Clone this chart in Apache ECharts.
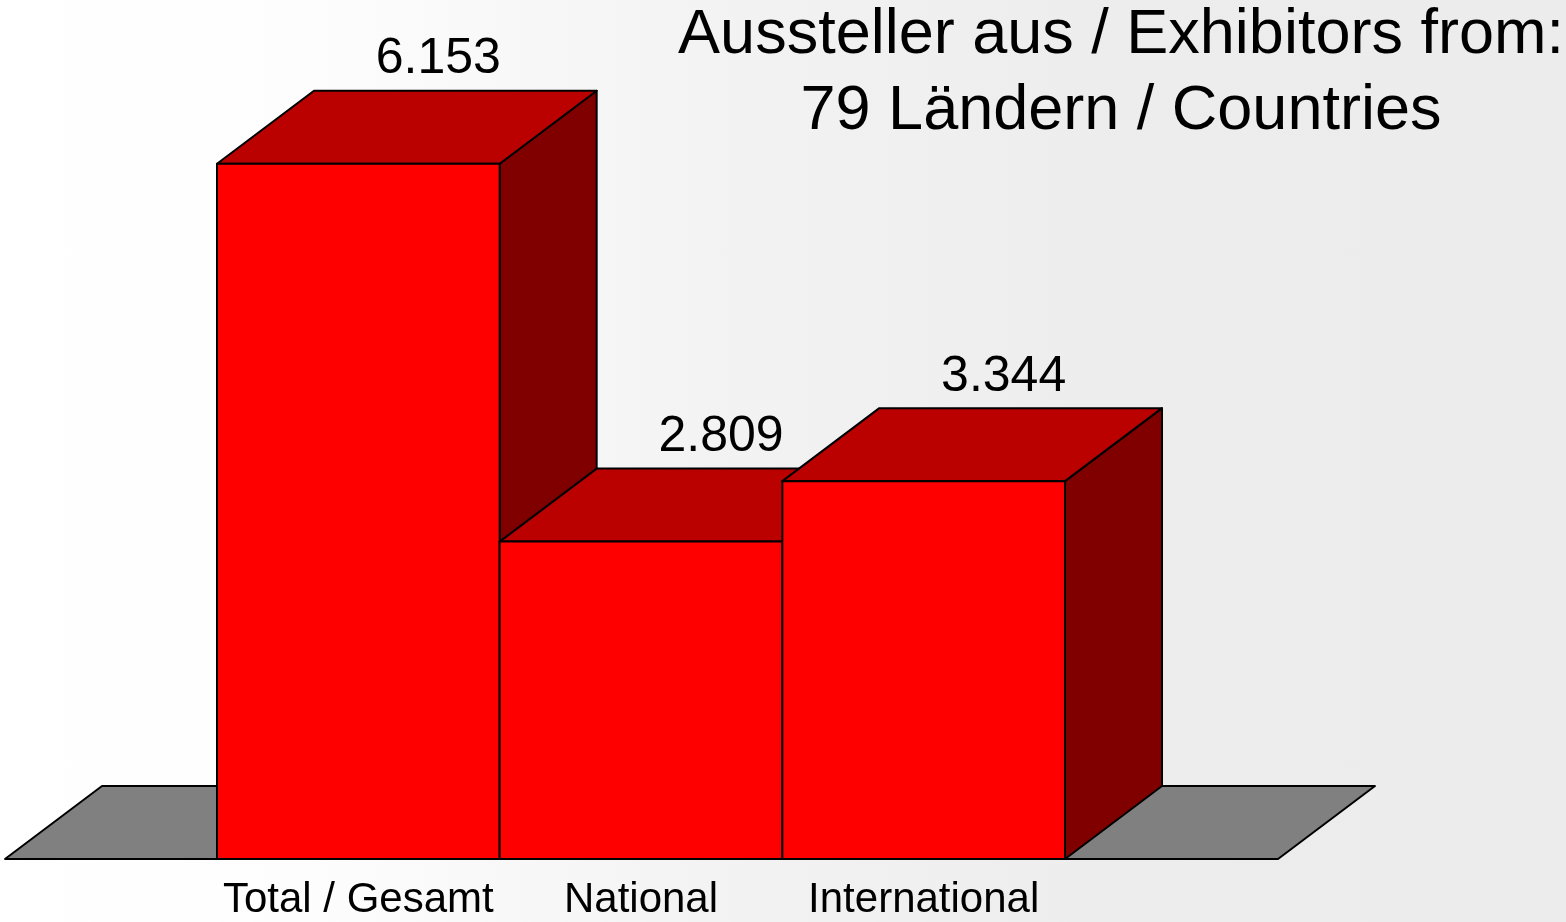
<!DOCTYPE html>
<html>
<head>
<meta charset="utf-8">
<script src="https://cdn.jsdelivr.net/npm/echarts@6/dist/echarts.min.js"></script>
<style>
  html, body { margin: 0; padding: 0; }
  #main {
    width: 1566px;
    height: 922px;
    background: linear-gradient(90deg, #ffffff 0%, #fdfdfd 20%, #f3f3f3 45%, #ededed 70%, #ececec 100%);
  }
</style>
</head>
<body>
<div id="main"></div>
<script>
// data
var categories = ['Total / Gesamt', 'National', 'International']
var exhibitors = [6153, 2809, 3344]
var titleLines = ['Aussteller aus / Exhibitors from:', '79 Ländern / Countries']

// 3d look
var DX = 97
var DY = 73
var FONT = '"Liberation Sans", Arial, sans-serif'

function fmt(v) {
  // german thousands separator
  var s = String(v)
  return s.replace(/\B(?=(\d{3})+(?!\d))/g, '.')
}

function renderItem(params, api) {
  var i = params.dataIndex
  var base = api.coord([api.value(0), 0])
  var top = api.coord([api.value(0), api.value(1)])
  var w = api.size([1, 0])[0]
  var x0 = base[0] - w / 2, x1 = base[0] + w / 2
  var yb = base[1], yt = top[1]
  var line = {stroke: '#000', lineWidth: 2, lineJoin: 'round'}
  var children = []

  if (i === 0) {
    // floor under the bars
    var cs = params.coordSys
    var fl = cs.x - 212, fr = cs.x + cs.width + 213, fy = cs.y + cs.height
    children.push({
      type: 'polygon',
      shape: {points: [[fl, fy], [fr, fy], [fr + DX, fy - DY], [fl + DX, fy - DY]]},
      style: Object.assign({fill: '#808080'}, line)
    })
  }

  children.push({
    type: 'polygon',
    shape: {points: [[x1, yb], [x1 + DX, yb - DY], [x1 + DX, yt - DY], [x1, yt]]},
    style: Object.assign({fill: '#800000'}, line)
  })
  children.push({
    type: 'polygon',
    shape: {points: [[x0, yt], [x1, yt], [x1 + DX, yt - DY], [x0 + DX, yt - DY]]},
    style: Object.assign({fill: '#bb0000'}, line)
  })
  children.push({
    type: 'rect',
    shape: {x: x0, y: yt, width: w, height: yb - yt},
    style: Object.assign({fill: '#ff0000'}, line)
  })
  children.push({
    type: 'text',
    style: {
      text: fmt(api.value(1)),
      x: base[0] + 80,
      y: yt - DY - 6,
      align: 'center',
      verticalAlign: 'bottom',
      fontSize: 50,
      fontFamily: FONT,
      fill: '#000'
    }
  })
  return {type: 'group', children: children}
}

var myChart = echarts.init(document.getElementById('main'))
var option = {
  backgroundColor: 'transparent',
  animation: false,
  grid: {left: 217, right: 501, top: 68, bottom: 63},
  xAxis: {
    type: 'category',
    data: categories,
    axisLine: {show: false},
    axisTick: {show: false},
    axisLabel: {
      interval: 0,
      fontSize: 42,
      fontFamily: FONT,
      color: '#000',
      margin: 20
    }
  },
  yAxis: {
    type: 'value',
    min: 0,
    max: 7000,
    show: false
  },
  graphic: titleLines.map(function (t, k) {
    return {
      type: 'text',
      x: 1121,
      y: 4 + k * 76,
      style: {
        text: t,
        align: 'center',
        verticalAlign: 'top',
        fontSize: 63,
        fontFamily: FONT,
        fill: '#000'
      }
    }
  }),
  series: [
    {
      type: 'custom',
      renderItem: renderItem,
      data: exhibitors.map(function (v, i) { return [i, v] }),
      clip: false
    }
  ]
}
myChart.setOption(option)
</script>
</body>
</html>
